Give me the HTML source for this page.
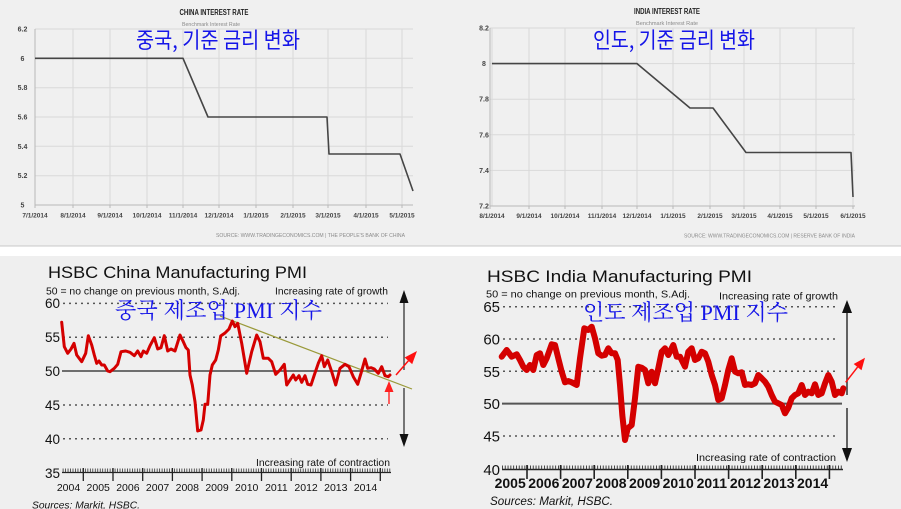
<!DOCTYPE html>
<html>
<head>
<meta charset="utf-8">
<style>
html,body{margin:0;padding:0;background:#fff;}
svg{display:block;}
</style>
</head>
<body>
<svg width="901" height="509" viewBox="0 0 901 509" xmlns="http://www.w3.org/2000/svg" font-family="'Liberation Sans', Arial, sans-serif">
<rect width="901" height="509" fill="#ffffff"/>
<!-- top panels -->
<rect x="0" y="0" width="901" height="246" fill="#f0f0f0"/>
<line x1="0" y1="246" x2="901" y2="246" stroke="#c8c8c8" stroke-width="1"/>
<!-- bottom panels -->
<rect x="0" y="256" width="901" height="253" fill="#efefef"/>

<!-- ================= TOP LEFT: CHINA INTEREST RATE ================= -->
<g stroke="#d9d9d9" stroke-width="1">
  <line x1="35" y1="29" x2="413" y2="29"/>
  <line x1="35" y1="58.3" x2="413" y2="58.3"/>
  <line x1="35" y1="87.7" x2="413" y2="87.7"/>
  <line x1="35" y1="117" x2="413" y2="117"/>
  <line x1="35" y1="146.3" x2="413" y2="146.3"/>
  <line x1="35" y1="175.7" x2="413" y2="175.7"/>
  <line x1="73" y1="29" x2="73" y2="205"/>
  <line x1="110" y1="29" x2="110" y2="205"/>
  <line x1="147" y1="29" x2="147" y2="205"/>
  <line x1="183" y1="29" x2="183" y2="205"/>
  <line x1="219" y1="29" x2="219" y2="205"/>
  <line x1="256" y1="29" x2="256" y2="205"/>
  <line x1="293" y1="29" x2="293" y2="205"/>
  <line x1="328" y1="29" x2="328" y2="205"/>
  <line x1="366" y1="29" x2="366" y2="205"/>
  <line x1="402" y1="29" x2="402" y2="205"/>
</g>
<g stroke="#b8b8b8" stroke-width="1">
  <line x1="35" y1="29" x2="35" y2="208"/>
  <line x1="35" y1="205" x2="413" y2="205"/>
  <line x1="73" y1="205" x2="73" y2="208"/><line x1="110" y1="205" x2="110" y2="208"/>
  <line x1="147" y1="205" x2="147" y2="208"/><line x1="183" y1="205" x2="183" y2="208"/>
  <line x1="219" y1="205" x2="219" y2="208"/><line x1="256" y1="205" x2="256" y2="208"/>
  <line x1="293" y1="205" x2="293" y2="208"/><line x1="328" y1="205" x2="328" y2="208"/>
  <line x1="366" y1="205" x2="366" y2="208"/><line x1="402" y1="205" x2="402" y2="208"/>
</g>
<g font-size="7" font-weight="bold" fill="#444" text-anchor="middle">
  <text x="22.5" y="31.5">6.2</text>
  <text x="22.5" y="60.8">6</text>
  <text x="22.5" y="90.2">5.8</text>
  <text x="22.5" y="119.5">5.6</text>
  <text x="22.5" y="148.8">5.4</text>
  <text x="22.5" y="178.2">5.2</text>
  <text x="22.5" y="207.5">5</text>
</g>
<g font-size="6.5" font-weight="bold" fill="#444" text-anchor="middle">
  <text x="35" y="217.5">7/1/2014</text>
  <text x="73" y="217.5">8/1/2014</text>
  <text x="110" y="217.5">9/1/2014</text>
  <text x="147" y="217.5">10/1/2014</text>
  <text x="183" y="217.5">11/1/2014</text>
  <text x="219" y="217.5">12/1/2014</text>
  <text x="256" y="217.5">1/1/2015</text>
  <text x="293" y="217.5">2/1/2015</text>
  <text x="328" y="217.5">3/1/2015</text>
  <text x="366" y="217.5">4/1/2015</text>
  <text x="402" y="217.5">5/1/2015</text>
</g>
<polyline points="35,58.3 183,58.3 208,117 327,117 329,154 400,154 413,191" fill="none" stroke="#454545" stroke-width="1.6" stroke-linejoin="round"/>
<text x="214" y="15" font-size="8" font-weight="bold" fill="#222" text-anchor="middle" textLength="69" lengthAdjust="spacingAndGlyphs">CHINA INTEREST RATE</text>
<text x="211" y="26" font-size="5.5" fill="#8a8a8a" text-anchor="middle" textLength="58" lengthAdjust="spacingAndGlyphs">Benchmark Interest Rate</text>
<text x="136" y="48" font-size="22" fill="#1515e8" font-family="'Noto Sans CJK KR', 'NanumGothic', sans-serif" textLength="164" lengthAdjust="spacingAndGlyphs">중국, 기준 금리 변화</text>
<text x="216" y="237" font-size="5.5" fill="#8a8a8a" textLength="189" lengthAdjust="spacingAndGlyphs">SOURCE:  WWW.TRADINGECONOMICS.COM  |  THE PEOPLE'S BANK OF CHINA</text>

<!-- ================= TOP RIGHT: INDIA INTEREST RATE ================= -->
<g stroke="#d9d9d9" stroke-width="1">
  <line x1="490" y1="28" x2="855" y2="28"/>
  <line x1="490" y1="63.6" x2="855" y2="63.6"/>
  <line x1="490" y1="99.2" x2="855" y2="99.2"/>
  <line x1="490" y1="134.8" x2="855" y2="134.8"/>
  <line x1="490" y1="170.4" x2="855" y2="170.4"/>
  <line x1="529" y1="28" x2="529" y2="206"/>
  <line x1="565" y1="28" x2="565" y2="206"/>
  <line x1="602" y1="28" x2="602" y2="206"/>
  <line x1="637" y1="28" x2="637" y2="206"/>
  <line x1="673" y1="28" x2="673" y2="206"/>
  <line x1="710" y1="28" x2="710" y2="206"/>
  <line x1="744" y1="28" x2="744" y2="206"/>
  <line x1="780" y1="28" x2="780" y2="206"/>
  <line x1="816" y1="28" x2="816" y2="206"/>
  <line x1="853" y1="28" x2="853" y2="206"/>
  <line x1="492" y1="28" x2="492" y2="206"/>
</g>
<g stroke="#b8b8b8" stroke-width="1">
  <line x1="490" y1="28" x2="490" y2="209"/>
  <line x1="490" y1="206" x2="855" y2="206"/>
  <line x1="529" y1="206" x2="529" y2="209"/><line x1="565" y1="206" x2="565" y2="209"/>
  <line x1="602" y1="206" x2="602" y2="209"/><line x1="637" y1="206" x2="637" y2="209"/>
  <line x1="673" y1="206" x2="673" y2="209"/><line x1="710" y1="206" x2="710" y2="209"/>
  <line x1="744" y1="206" x2="744" y2="209"/><line x1="780" y1="206" x2="780" y2="209"/>
  <line x1="816" y1="206" x2="816" y2="209"/><line x1="853" y1="206" x2="853" y2="209"/>
</g>
<g font-size="7" font-weight="bold" fill="#444" text-anchor="middle">
  <text x="484" y="30.5">8.2</text>
  <text x="484" y="66.1">8</text>
  <text x="484" y="101.7">7.8</text>
  <text x="484" y="137.3">7.6</text>
  <text x="484" y="172.9">7.4</text>
  <text x="484" y="208.5">7.2</text>
</g>
<g font-size="6.5" font-weight="bold" fill="#444" text-anchor="middle">
  <text x="492" y="218">8/1/2014</text>
  <text x="529" y="218">9/1/2014</text>
  <text x="565" y="218">10/1/2014</text>
  <text x="602" y="218">11/1/2014</text>
  <text x="637" y="218">12/1/2014</text>
  <text x="673" y="218">1/1/2015</text>
  <text x="710" y="218">2/1/2015</text>
  <text x="744" y="218">3/1/2015</text>
  <text x="780" y="218">4/1/2015</text>
  <text x="816" y="218">5/1/2015</text>
  <text x="853" y="218">6/1/2015</text>
</g>
<polyline points="492,63.6 637,63.6 690,108 713,108 746,152.5 851,152.5 853,197" fill="none" stroke="#454545" stroke-width="1.6" stroke-linejoin="round"/>
<text x="667" y="14" font-size="8" font-weight="bold" fill="#222" text-anchor="middle" textLength="66" lengthAdjust="spacingAndGlyphs">INDIA INTEREST RATE</text>
<text x="667" y="25" font-size="5.5" fill="#8a8a8a" text-anchor="middle" textLength="62" lengthAdjust="spacingAndGlyphs">Benchmark Interest Rate</text>
<text x="593" y="48" font-size="22" fill="#1515e8" font-family="'Noto Sans CJK KR', 'NanumGothic', sans-serif" textLength="162" lengthAdjust="spacingAndGlyphs">인도, 기준 금리 변화</text>
<text x="684" y="237.5" font-size="5.5" fill="#8a8a8a" textLength="171" lengthAdjust="spacingAndGlyphs">SOURCE:  WWW.TRADINGECONOMICS.COM  |  RESERVE BANK OF INDIA</text>

<!-- ================= BOTTOM LEFT: HSBC CHINA PMI ================= -->
<text x="48" y="278" font-size="17" fill="#111" textLength="259" lengthAdjust="spacingAndGlyphs">HSBC China Manufacturing PMI</text>
<text x="46" y="294.5" font-size="10.5" fill="#111" textLength="194" lengthAdjust="spacingAndGlyphs">50 = no change on previous month, S.Adj.</text>
<text x="275" y="294.5" font-size="10.5" fill="#111" textLength="113" lengthAdjust="spacingAndGlyphs">Increasing rate of growth</text>
<text x="256" y="466" font-size="10.5" fill="#111" textLength="134" lengthAdjust="spacingAndGlyphs">Increasing rate of contraction</text>
<g stroke="#555" stroke-width="1.5" stroke-dasharray="2 4">
  <line x1="63" y1="303.4" x2="388" y2="303.4"/>
  <line x1="63" y1="337.2" x2="388" y2="337.2"/>
  <line x1="63" y1="405" x2="388" y2="405"/>
  <line x1="63" y1="438.8" x2="388" y2="438.8"/>
</g>
<line x1="62" y1="371" x2="391" y2="371" stroke="#444" stroke-width="1.4"/>
<g font-size="13.5" fill="#111" text-anchor="end">
  <text x="60" y="308">60</text>
  <text x="60" y="342">55</text>
  <text x="60" y="376">50</text>
  <text x="60" y="410">45</text>
  <text x="60" y="444">40</text>
  <text x="60" y="478">35</text>
</g>
<!-- x axis -->
<line x1="62" y1="472.5" x2="391" y2="472.5" stroke="#222" stroke-width="1.3"/>
<line x1="62.7" y1="470.5" x2="391" y2="470.5" stroke="#333" stroke-width="4" stroke-dasharray="0.8 1.675"/>
<g stroke="#222" stroke-width="1.3">
  <line x1="83.3" y1="468" x2="83.3" y2="481"/>
  <line x1="113" y1="468" x2="113" y2="481"/>
  <line x1="142.7" y1="468" x2="142.7" y2="481"/>
  <line x1="172.4" y1="468" x2="172.4" y2="481"/>
  <line x1="202.1" y1="468" x2="202.1" y2="481"/>
  <line x1="231.8" y1="468" x2="231.8" y2="481"/>
  <line x1="261.5" y1="468" x2="261.5" y2="481"/>
  <line x1="291.2" y1="468" x2="291.2" y2="481"/>
  <line x1="320.9" y1="468" x2="320.9" y2="481"/>
  <line x1="350.6" y1="468" x2="350.6" y2="481"/>
  <line x1="380.3" y1="468" x2="380.3" y2="481"/>
</g>
<g font-size="10.5" fill="#111" text-anchor="middle">
  <text x="68.5" y="491">2004</text>
  <text x="98.2" y="491">2005</text>
  <text x="127.9" y="491">2006</text>
  <text x="157.6" y="491">2007</text>
  <text x="187.3" y="491">2008</text>
  <text x="217" y="491">2009</text>
  <text x="246.7" y="491">2010</text>
  <text x="276.4" y="491">2011</text>
  <text x="306.1" y="491">2012</text>
  <text x="335.8" y="491">2013</text>
  <text x="365.5" y="491">2014</text>
</g>
<text x="32" y="508.5" font-size="10.5" font-style="italic" fill="#111" textLength="108" lengthAdjust="spacingAndGlyphs">Sources: Markit, HSBC.</text>
<!-- black double arrow -->
<g stroke="#333" stroke-width="1.3">
  <line x1="404" y1="302" x2="404" y2="370"/>
  <line x1="404" y1="388" x2="404" y2="435"/>
</g>
<polygon points="399.5,303 408.5,303 404,290" fill="#111"/>
<polygon points="399.5,434 408.5,434 404,447" fill="#111"/>
<!-- trend line -->
<line x1="220" y1="316" x2="412" y2="389" stroke="#9a9a3a" stroke-width="1.2"/>
<!-- red data -->
<polyline fill="none" stroke="#d40000" stroke-width="3" stroke-linejoin="round" stroke-linecap="round" points="61.7,322.3 64.3,346.7 67.7,353.3 71,349 74,343.3 76.7,355 81.7,361.7 85.7,353.3 88.3,335.7 91.7,345 94.3,355 96.7,363.3 99,361 101.7,365 104.3,365 107.7,371 110,371.7 114.3,368.3 117.7,364.3 121,351.7 125.7,351 130,352.3 134.3,355.7 137.7,351 141,356.7 143.3,351 146.7,353.3 150,345.7 154.3,337.7 157.7,349 161,347.7 164.3,335.7 167.7,351 171,349 175,351 180,335 183.3,341.7 186,347.7 188.3,350 190,375 192.3,385 195,401.7 197.7,431 201,430 203.3,420 205,404.3 207.7,404.3 210,375 212.3,365 215.7,360 218.3,350 220.7,336 225,333 229,329 232.3,321 235,326.7 237.7,323.3 241.7,343.3 246.7,373.3 251.7,351.7 256.7,335 260,341.7 263.3,358.3 268.3,358.3 271.7,361.7 275.7,374.3 280,370 284.3,364.3 286.7,385 290,380 293.3,375 295.7,380 299,375.7 301.7,382.3 305,375.7 307.7,384.3 311,385 314.3,375 318.3,363.3 321.7,355.7 324.3,366.7 327.7,360 331.7,371.7 335.7,385 340,368.3 345,364.3 349,366.7 353.3,376.7 357.7,384.3 361,373.3 365,359 367.7,368.3 371,367.7 374.3,369 378.3,373.3 381.7,366.7 385,375.7 388.3,376.7 390,375"/>
<!-- red arrows -->
<line x1="396" y1="375" x2="408.4" y2="360.8" stroke="#ff1010" stroke-width="1.5"/>
<polygon points="417,351 412.2,364.1 404.6,357.5" fill="#ff1010"/>
<line x1="389" y1="391" x2="389" y2="404" stroke="#ff3030" stroke-width="1.5"/>
<polygon points="389,381 384.5,392 393.5,392" fill="#ff2020"/>
<text x="115" y="318" font-size="22" fill="#1515e8" font-family="'Liberation Serif', 'Noto Serif CJK SC', serif" textLength="207" lengthAdjust="spacing">중국 제조업 PMI 지수</text>

<!-- ================= BOTTOM RIGHT: HSBC INDIA PMI ================= -->
<text x="487" y="282" font-size="17" fill="#111" textLength="265" lengthAdjust="spacingAndGlyphs">HSBC India Manufacturing PMI</text>
<text x="486" y="297.5" font-size="10.5" fill="#111" textLength="204" lengthAdjust="spacingAndGlyphs">50 = no change on previous month, S.Adj.</text>
<text x="719" y="299.5" font-size="10.5" fill="#111" textLength="119" lengthAdjust="spacingAndGlyphs">Increasing rate of growth</text>
<text x="696" y="461" font-size="10.5" fill="#111" textLength="140" lengthAdjust="spacingAndGlyphs">Increasing rate of contraction</text>
<g stroke="#555" stroke-width="1.5" stroke-dasharray="2 4">
  <line x1="503" y1="306.7" x2="838" y2="306.7"/>
  <line x1="503" y1="339" x2="838" y2="339"/>
  <line x1="503" y1="371.3" x2="838" y2="371.3"/>
  <line x1="503" y1="436" x2="838" y2="436"/>
</g>
<line x1="502" y1="403.6" x2="842" y2="403.6" stroke="#555" stroke-width="2"/>
<g font-size="15" fill="#111" text-anchor="end">
  <text x="500" y="312">65</text>
  <text x="500" y="344.5">60</text>
  <text x="500" y="377">55</text>
  <text x="500" y="409">50</text>
  <text x="500" y="441.5">45</text>
  <text x="500" y="475">40</text>
</g>
<line x1="502" y1="469.5" x2="843" y2="469.5" stroke="#222" stroke-width="1.5"/>
<line x1="502" y1="467.5" x2="843" y2="467.5" stroke="#333" stroke-width="4" stroke-dasharray="0.9 1.9"/>
<g stroke="#222" stroke-width="1.6">
  <line x1="527" y1="465" x2="527" y2="479"/>
  <line x1="560.6" y1="465" x2="560.6" y2="479"/>
  <line x1="594.2" y1="465" x2="594.2" y2="479"/>
  <line x1="627.8" y1="465" x2="627.8" y2="479"/>
  <line x1="661.4" y1="465" x2="661.4" y2="479"/>
  <line x1="695" y1="465" x2="695" y2="479"/>
  <line x1="728.6" y1="465" x2="728.6" y2="479"/>
  <line x1="762.2" y1="465" x2="762.2" y2="479"/>
  <line x1="795.8" y1="465" x2="795.8" y2="479"/>
  <line x1="829.4" y1="465" x2="829.4" y2="479"/>
</g>
<g font-size="14" font-weight="bold" fill="#111" text-anchor="middle">
  <text x="510.2" y="488">2005</text>
  <text x="543.8" y="488">2006</text>
  <text x="577.4" y="488">2007</text>
  <text x="611" y="488">2008</text>
  <text x="644.6" y="488">2009</text>
  <text x="678.2" y="488">2010</text>
  <text x="711.8" y="488">2011</text>
  <text x="745.4" y="488">2012</text>
  <text x="779" y="488">2013</text>
  <text x="812.6" y="488">2014</text>
</g>
<text x="490" y="505" font-size="11.5" font-style="italic" fill="#111" textLength="123" lengthAdjust="spacingAndGlyphs">Sources: Markit, HSBC.</text>
<!-- black double arrow -->
<g stroke="#333" stroke-width="1.5">
  <line x1="847" y1="312" x2="847" y2="395"/>
  <line x1="847" y1="408" x2="847" y2="449"/>
</g>
<polygon points="842,313 852,313 847,300" fill="#111"/>
<polygon points="842,448 852,448 847,462" fill="#111"/>
<!-- red data -->
<polyline fill="none" stroke="#d40000" stroke-width="6" stroke-linejoin="round" stroke-linecap="round" points="501.7,356.7 506.7,350 511.7,356.7 516.7,354.3 520,360 523.3,366.7 526.7,370 530,365 533.3,370 536.7,355 540,353.3 543.3,365 546.7,358.3 551.7,344.3 555,345 558.3,358.3 561.7,371.7 565,382.3 568.3,381 571.7,382.3 576.7,385 580,358.3 584.3,328.3 588.3,330 591.7,326.7 595,338.3 598.3,353.3 601.7,355.7 605,355 608.3,348.3 611.7,353.3 615,353.3 617.7,360 620,385 622.3,415 625,440 627.7,428.3 631.7,425 635,398.3 638.3,366.7 641.7,367.7 645,370 648.3,383.3 651.7,371.7 655,383.3 658.3,368.3 661.7,351.7 665,348.3 668.3,355 673.3,345 676.7,356.7 680,356.7 685,366.7 688.3,351.7 691.7,348.3 695,360 698.3,358.3 701.7,351.7 705,353.3 708.3,361.7 711.7,375 715,385 718.3,400 721.7,398.3 725,385 728.3,370 731.7,358.3 735,371.7 738.3,373.3 741.7,372.3 745,385 748.3,384.3 751.7,385 755,383.3 758.3,375 761.7,378.3 765,381.7 768.3,386.7 771.7,395 775,401.7 778.3,403.3 781.7,405 785,413.3 788.3,407.7 791.7,398.3 795,395 798.3,393.3 801.7,385 805,395 808.3,391.7 811.7,393.3 815,384.3 818.3,395 821.7,393.3 825,383.3 828.3,375 831.7,381.7 835,395 838.3,391.7 841.7,393.3 843.3,388.3"/>
<!-- red arrow -->
<line x1="845.7" y1="382.3" x2="857.6" y2="367.1" stroke="#ff1010" stroke-width="1.5"/>
<polygon points="865,357.7 861.5,370.2 853.7,364" fill="#ff1010"/>
<text x="583" y="320" font-size="22" fill="#1515e8" font-family="'Liberation Serif', 'Noto Serif CJK SC', serif" textLength="205" lengthAdjust="spacing">인도 제조업 PMI 지수</text>
</svg>
</body>
</html>
